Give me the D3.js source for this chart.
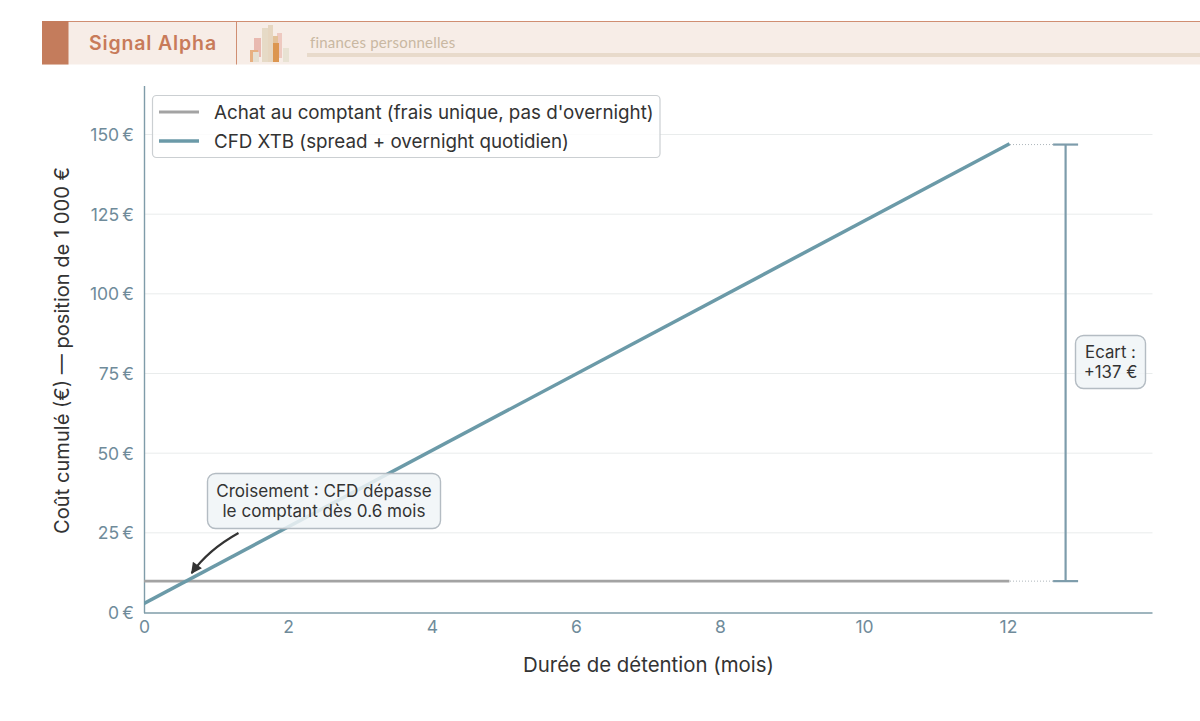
<!DOCTYPE html>
<html>
<head>
<meta charset="utf-8">
<script src="https://cdn.jsdelivr.net/npm/d3@7"></script>
<style>
  html, body { margin: 0; padding: 0; background: #fff; }
  svg { display: block; }
  text { font-family: Inter, "Noto Sans", sans-serif; }
</style>
</head>
<body>
<div id="chart"></div>
<script>
// values
var months = [0, 12];
var cashCost = [10, 10];
var cfdCost = [3, 147];
var xTicks = [0, 2, 4, 6, 8, 10, 12];
var yTicks = [0, 25, 50, 75, 100, 125, 150];
var gapMonth = 12.8;
var crossing = { month: 0.6, cost: 10 };
var legendLabels = ["Achat au comptant (frais unique, pas d'overnight)", "CFD XTB (spread + overnight quotidien)"];

var width = 1200, height = 721;
var margin = { top: 86, right: 47.5, bottom: 108, left: 144 };

var svg = d3.select("#chart")
  .append("svg")
    .attr("width", width)
    .attr("height", height);

var x = d3.scaleLinear().domain([0, 14]).range([margin.left, margin.left + 1008]);
var y = d3.scaleLinear().domain([0, 150]).range([613, 135]);

var tickColor = "#6f8b9a", axisColor = "#7f9ca9", inkColor = "#333333";
var cashColor = "#a3a3a3", cfdColor = "#6b9aa8";

// header banner
var banner = svg.append("g");
banner.append("rect").attr("x", 42).attr("y", 21).attr("width", 1158).attr("height", 43.5).attr("fill", "#f7ede7");
banner.append("rect").attr("x", 42).attr("y", 21).attr("width", 1158).attr("height", 1).attr("fill", "#d08e72");
banner.append("rect").attr("x", 42).attr("y", 21).attr("width", 26.5).attr("height", 43.5).attr("fill", "#c47c5c");
banner.append("rect").attr("x", 236).attr("y", 21).attr("width", 1).attr("height", 43.5).attr("fill", "#d08e72");
banner.append("text").attr("x", 89).attr("y", 50).attr("fill", "#c87b5a")
  .style("font-size", "19.5px").style("font-weight", 600).style("letter-spacing", "0.85px")
  .text("Signal Alpha");
banner.append("text").attr("x", 310).attr("y", 47.5).attr("fill", "#c9b8a2")
  .style("font-family", "Lato").style("font-size", "15px").style("font-weight", 400).style("letter-spacing", "0.2px")
  .text("finances personnelles");
banner.append("rect").attr("x", 307).attr("y", 53).attr("width", 893).attr("height", 4).attr("fill", "#e8dacb");

// little skyline logo
var logoBars = [
  [254, 38, 7, 19, "#e9b9b0"], [250, 50, 8, 12, "#e7b081"], [253, 52, 6, 10, "#e6e0d2"],
  [262, 28, 6, 34, "#e6dac6"], [268, 25, 5, 37, "#e6d6c0"], [277, 33, 5, 25, "#eec9c0"],
  [273, 36, 5, 26, "#e3c198"], [273, 43, 6, 19, "#dc9650"], [283, 48, 6, 14, "#e8e2d3"]
];
banner.selectAll("rect.logo")
  .data(logoBars)
  .enter().append("rect")
    .attr("class", "logo")
    .attr("x", function(d) { return d[0]; })
    .attr("y", function(d) { return d[1]; })
    .attr("width", function(d) { return d[2]; })
    .attr("height", function(d) { return d[3]; })
    .attr("fill", function(d) { return d[4]; });

// grid
svg.append("g").selectAll("line")
  .data(yTicks.slice(1))
  .enter().append("line")
    .attr("x1", margin.left)
    .attr("x2", 1152.5)
    .attr("y1", function(d) { return y(d) - 0.5; })
    .attr("y2", function(d) { return y(d) - 0.5; })
    .attr("stroke", "#e9ecec")
    .attr("stroke-width", 1);

// axes
var xAxis = svg.append("g")
  .attr("transform", "translate(0," + y(0) + ")")
  .call(d3.axisBottom(x).tickValues(xTicks).tickSize(0).tickPadding(8).tickFormat(d3.format("d")));
var yAxis = svg.append("g")
  .attr("transform", "translate(" + margin.left + ",0)")
  .call(d3.axisLeft(y).tickValues(yTicks).tickSize(0).tickPadding(10).tickFormat(function(d) { return d + "\u202f€"; }));

yAxis.select(".domain").attr("d", "M0.5," + margin.top + "V" + y(0));
xAxis.select(".domain").attr("d", "M" + margin.left + ",0H1152.5");
svg.selectAll(".domain").attr("stroke", axisColor).attr("stroke-width", 1.4);
svg.selectAll(".tick text").attr("fill", tickColor).style("font-size", "17.5px").style("font-family", "Inter");

svg.append("text")
  .attr("x", 648.5).attr("y", 672)
  .attr("text-anchor", "middle")
  .attr("fill", inkColor)
  .style("font-size", "20.4px")
  .text("Durée de détention (mois)");
svg.append("text")
  .attr("transform", "translate(69,350.5) rotate(-90)")
  .attr("text-anchor", "middle")
  .attr("fill", inkColor)
  .style("font-size", "20.1px")
  .text("Coût cumulé (€) — position de 1 000 €");

// lines, clipped at the y axis so the square caps only show at the right end
svg.append("defs").append("clipPath").attr("id", "plot")
  .append("rect").attr("x", margin.left).attr("y", margin.top).attr("width", 1008).attr("height", y(0) - margin.top);

var line = d3.line()
  .x(function(d) { return x(d[0]); })
  .y(function(d) { return y(d[1]); });

svg.append("path")
  .attr("d", line(d3.zip(months, cashCost)))
  .attr("clip-path", "url(#plot)").attr("stroke-linecap", "square")
  .attr("fill", "none").attr("stroke", cashColor).attr("stroke-width", 2.8);
svg.append("path")
  .attr("d", line(d3.zip(months, cfdCost)))
  .attr("clip-path", "url(#plot)").attr("stroke-linecap", "square")
  .attr("fill", "none").attr("stroke", cfdColor).attr("stroke-width", 3.5);

// dotted leaders to the bracket
[cashCost[1], cfdCost[1]].forEach(function(v) {
  svg.append("line")
    .attr("x1", x(12) + 2).attr("x2", x(gapMonth) - 12)
    .attr("y1", y(v)).attr("y2", y(v))
    .attr("stroke", "#aeb6bb").attr("stroke-width", 1).attr("stroke-dasharray", "1,2");
});

// gap bracket
var bracket = svg.append("g").attr("stroke", "#7d9cab").attr("stroke-width", 2.2);
bracket.append("line").attr("x1", x(gapMonth)).attr("x2", x(gapMonth)).attr("y1", y(cashCost[1])).attr("y2", y(cfdCost[1]));
[cashCost[1], cfdCost[1]].forEach(function(v) {
  bracket.append("line").attr("x1", x(gapMonth) - 12.5).attr("x2", x(gapMonth) + 12.5).attr("y1", y(v)).attr("y2", y(v));
});

function noteBox(bx, by, bw, bh, lines, lineGap, size) {
  svg.append("rect")
    .attr("x", bx).attr("y", by).attr("width", bw).attr("height", bh).attr("rx", 8)
    .attr("fill", "#f0f4f7").attr("fill-opacity", 0.85)
    .attr("stroke", "#b4bcc3").attr("stroke-width", 1.4);
  var first = by + bh / 2 - (lines.length - 1) * lineGap / 2 + 6;
  lines.forEach(function(t, i) {
    svg.append("text")
      .attr("x", bx + bw / 2).attr("y", first + i * lineGap)
      .attr("text-anchor", "middle").attr("fill", inkColor)
      .style("font-size", size)
      .text(t);
  });
}

noteBox(1075.5, 335.5, 70, 53, ["Ecart :", "+137 €"], 19.5, "16.8px");
noteBox(207.5, 473.5, 233, 55, ["Croisement : CFD dépasse", "le comptant dès 0.6 mois"], 20.5, "17.1px");

// arrow to the crossing
svg.append("defs").append("marker")
  .attr("id", "head")
  .attr("viewBox", "0 0 10 10")
  .attr("refX", 9).attr("refY", 5)
  .attr("markerWidth", 14).attr("markerHeight", 11)
  .attr("markerUnits", "userSpaceOnUse")
  .attr("orient", "auto")
  .append("path").attr("d", "M0,0L10,5L0,10Z").attr("fill", inkColor);
var tipX = x(crossing.month) + 4.5, tipY = y(crossing.cost) - 8;
svg.append("path")
  .attr("d", "M238.5,533Q208,550 " + tipX + "," + tipY)
  .attr("fill", "none").attr("stroke", inkColor).attr("stroke-width", 2.2)
  .attr("marker-end", "url(#head)");

// legend
var legend = svg.append("g");
legend.append("rect")
  .attr("x", 152.5).attr("y", 95.5).attr("width", 507.5).attr("height", 62).attr("rx", 4)
  .attr("fill", "#fff").attr("fill-opacity", 0.85)
  .attr("stroke", "#cbcfd2").attr("stroke-width", 1.2);
legendLabels.forEach(function(t, i) {
  var ly = 112 + i * 29;
  legend.append("line")
    .attr("x1", 159).attr("x2", 199).attr("y1", ly).attr("y2", ly)
    .attr("stroke", i == 0 ? cashColor : cfdColor).attr("stroke-width", i == 0 ? 2.8 : 3.5);
  legend.append("text")
    .attr("x", 214).attr("y", ly + 6.5)
    .attr("fill", inkColor)
    .style("font-size", "18.78px")
    .text(t);
});
</script>
</body>
</html>
